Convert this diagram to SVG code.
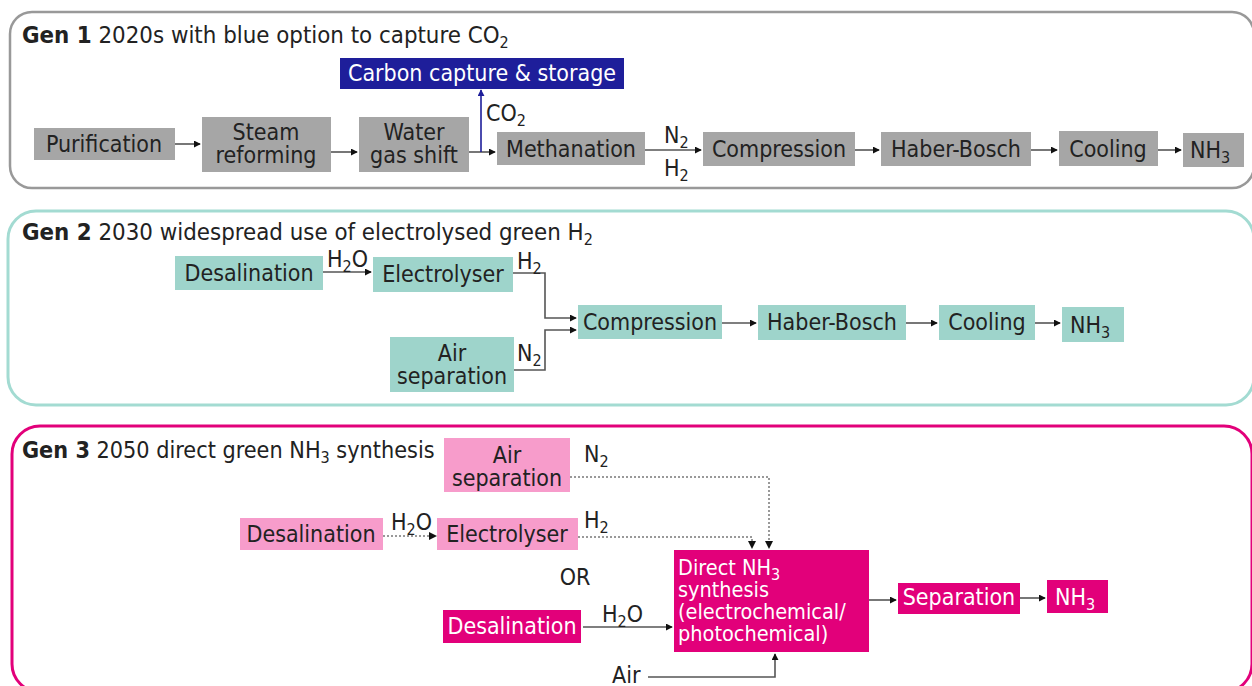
<svg xmlns="http://www.w3.org/2000/svg" width="1252" height="686" viewBox="0 0 1252 686">
<style>
text{font-family:"DejaVu Sans Condensed","DejaVu Sans",sans-serif;font-size:23px;fill:#222}
.t{font-size:23.8px}
.t3{font-size:23.2px}
.m{font-size:21.5px}
.b{font-weight:bold}
.w{fill:#fff}
.c{text-anchor:middle}
.g1{fill:#a6a6a6}
.g2{fill:#9ed4cb}
.g3l{fill:#f79ccb}
.g3d{fill:#e2007a}
.ln{fill:none;stroke:#555;stroke-width:1.6}
.dt{fill:none;stroke:#999;stroke-width:2;stroke-dasharray:2 2}
</style>
<defs>
<marker id="ah" viewBox="0 0 8 8" refX="7" refY="4" markerWidth="7" markerHeight="7" markerUnits="userSpaceOnUse" orient="auto"><path d="M0,0L8,4L0,8z" fill="#111"/></marker>
<marker id="ahb" viewBox="0 0 8 8" refX="7" refY="4" markerWidth="7" markerHeight="7" markerUnits="userSpaceOnUse" orient="auto"><path d="M0,0L8,4L0,8z" fill="#1e1e9a"/></marker>
</defs>

<g id="panel1">
<rect x="10" y="12" width="1244" height="176" rx="22" fill="#fff" stroke="#999" stroke-width="2.5"/>
<text x="22" y="43" class="t"><tspan class="b">Gen 1</tspan> 2020s with blue option to capture CO<tspan dy="5" font-size="16">2</tspan></text>
</g>
<g id="panel2">
<rect x="8" y="211" width="1246" height="194" rx="28" fill="#fff" stroke="#a3dbd2" stroke-width="3"/>
<text x="22" y="240" class="t"><tspan class="b">Gen 2</tspan> 2030 widespread use of electrolysed green H<tspan dy="5" font-size="16">2</tspan></text>
</g>
<g id="panel3">
<rect x="12" y="426" width="1240" height="266" rx="28" fill="#fff" stroke="#e2007a" stroke-width="3"/>
<text x="22" y="458" class="t3"><tspan class="b">Gen 3</tspan> 2050 direct green NH<tspan dy="5" font-size="16">3</tspan><tspan dy="-5"> synthesis</tspan></text>
</g>

<g id="connectors">
<!-- Gen 1 -->
<path class="ln" d="M175,144H200" marker-end="url(#ah)"/>
<path class="ln" d="M331,152H357" marker-end="url(#ah)"/>
<path class="ln" d="M469,152H495" marker-end="url(#ah)"/>
<path d="M481,152V90" fill="none" stroke="#1e1e9a" stroke-width="1.6" marker-end="url(#ahb)"/>
<path class="ln" d="M645,150H701" marker-end="url(#ah)"/>
<path class="ln" d="M855,150H879" marker-end="url(#ah)"/>
<path class="ln" d="M1031,150H1057" marker-end="url(#ah)"/>
<path class="ln" d="M1158,150H1181" marker-end="url(#ah)"/>
<!-- Gen 2 -->
<path class="ln" d="M323,272H371" marker-end="url(#ah)"/>
<path class="ln" d="M513,273H545V318H576" marker-end="url(#ah)"/>
<path class="ln" d="M514,370H545V330H576" marker-end="url(#ah)"/>
<path class="ln" d="M722,323H756" marker-end="url(#ah)"/>
<path class="ln" d="M906,323H937" marker-end="url(#ah)"/>
<path class="ln" d="M1035,323H1060" marker-end="url(#ah)"/>
<!-- Gen 3 -->
<path class="dt" d="M570,477H769V546"/>
<path d="M765,541L769,549L773,541z" fill="#111"/>
<path class="dt" d="M578,537H752V546"/>
<path d="M748,541L752,549L756,541z" fill="#111"/>
<path class="dt" d="M383,536H431"/>
<path d="M429,532L437,536L429,540z" fill="#111"/>
<path class="ln" d="M583,627H672" marker-end="url(#ah)"/>
<path class="ln" d="M648,677H775V654" marker-end="url(#ah)"/>
<path class="ln" d="M869,600H896" marker-end="url(#ah)"/>
<path class="ln" d="M1020,598H1045" marker-end="url(#ah)"/>
</g>

<g id="labels">
<text x="486" y="121">CO<tspan dy="5" font-size="16">2</tspan></text>
<text x="664" y="143">N<tspan dy="5" font-size="16">2</tspan></text>
<text x="664" y="176">H<tspan dy="5" font-size="16">2</tspan></text>
<text x="327" y="267">H<tspan dy="5" font-size="16">2</tspan><tspan dy="-5">O</tspan></text>
<text x="517" y="269">H<tspan dy="5" font-size="16">2</tspan></text>
<text x="517" y="361">N<tspan dy="5" font-size="16">2</tspan></text>
<text x="584" y="462">N<tspan dy="5" font-size="16">2</tspan></text>
<text x="584" y="528">H<tspan dy="5" font-size="16">2</tspan></text>
<text x="391" y="530">H<tspan dy="5" font-size="16">2</tspan><tspan dy="-5">O</tspan></text>
<text x="575" y="585" class="c">OR</text>
<text x="602" y="622">H<tspan dy="5" font-size="16">2</tspan><tspan dy="-5">O</tspan></text>
<text x="612" y="683">Air</text>
</g>

<!-- Gen 1 nodes -->
<g id="ccs"><rect x="340" y="58" width="284" height="31" fill="#1e1e9a"/><text x="482" y="81" class="c w">Carbon capture &amp; storage</text></g>
<g id="purification"><rect class="g1" x="34" y="128" width="141" height="32"/><text x="104" y="152" class="c">Purification</text></g>
<g id="steam-reforming"><rect class="g1" x="202" y="117" width="129" height="55"/><text x="266" y="140" class="c">Steam</text><text x="266" y="163" class="c">reforming</text></g>
<g id="water-gas-shift"><rect class="g1" x="359" y="117" width="110" height="55"/><text x="414" y="140" class="c">Water</text><text x="414" y="163" class="c">gas shift</text></g>
<g id="methanation"><rect class="g1" x="497" y="132" width="148" height="33"/><text x="571" y="157" class="c">Methanation</text></g>
<g id="compression1"><rect class="g1" x="703" y="132" width="152" height="34"/><text x="779" y="157" class="c">Compression</text></g>
<g id="haber-bosch1"><rect class="g1" x="881" y="132" width="150" height="34"/><text x="956" y="157" class="c">Haber-Bosch</text></g>
<g id="cooling1"><rect class="g1" x="1059" y="131" width="99" height="35"/><text x="1108" y="157" class="c">Cooling</text></g>
<g id="nh3-1"><rect class="g1" x="1183" y="133" width="61" height="34"/><text x="1190" y="158">NH<tspan dy="5" font-size="16">3</tspan></text></g>

<!-- Gen 2 nodes -->
<g id="desalination2"><rect class="g2" x="175" y="256" width="148" height="34"/><text x="249" y="281" class="c">Desalination</text></g>
<g id="electrolyser2"><rect class="g2" x="373" y="257" width="140" height="35"/><text x="443" y="282" class="c">Electrolyser</text></g>
<g id="air-separation2"><rect class="g2" x="390" y="337" width="124" height="55"/><text x="452" y="361" class="c">Air</text><text x="452" y="384" class="c">separation</text></g>
<g id="compression2"><rect class="g2" x="578" y="305" width="144" height="34"/><text x="650" y="330" class="c">Compression</text></g>
<g id="haber-bosch2"><rect class="g2" x="758" y="305" width="148" height="35"/><text x="832" y="330" class="c">Haber-Bosch</text></g>
<g id="cooling2"><rect class="g2" x="939" y="305" width="96" height="35"/><text x="987" y="330" class="c">Cooling</text></g>
<g id="nh3-2"><rect class="g2" x="1062" y="307" width="62" height="35"/><text x="1070" y="333">NH<tspan dy="5" font-size="16">3</tspan></text></g>

<!-- Gen 3 nodes -->
<g id="air-separation3"><rect class="g3l" x="444" y="438" width="126" height="54"/><text x="507" y="463" class="c">Air</text><text x="507" y="486" class="c">separation</text></g>
<g id="desalination3a"><rect class="g3l" x="240" y="518" width="143" height="32"/><text x="311" y="542" class="c">Desalination</text></g>
<g id="electrolyser3"><rect class="g3l" x="437" y="518" width="141" height="32"/><text x="507" y="542" class="c">Electrolyser</text></g>
<g id="desalination3b"><rect class="g3d" x="443" y="610" width="138" height="33"/><text x="512" y="634" class="c w">Desalination</text></g>
<g id="direct-synthesis"><rect class="g3d" x="674" y="550" width="195" height="102"/>
<text x="678" y="575" class="w m">Direct NH<tspan dy="5" font-size="16">3</tspan></text>
<text x="678" y="597" class="w m">synthesis</text>
<text x="678" y="619" class="w m">(electrochemical/</text>
<text x="678" y="641" class="w m">photochemical)</text></g>
<g id="separation"><rect class="g3d" x="898" y="583" width="122" height="31"/><text x="959" y="605" class="c w">Separation</text></g>
<g id="nh3-3"><rect class="g3d" x="1047" y="580" width="61" height="33"/><text x="1055" y="605" class="w">NH<tspan dy="5" font-size="16">3</tspan></text></g>
</svg>
